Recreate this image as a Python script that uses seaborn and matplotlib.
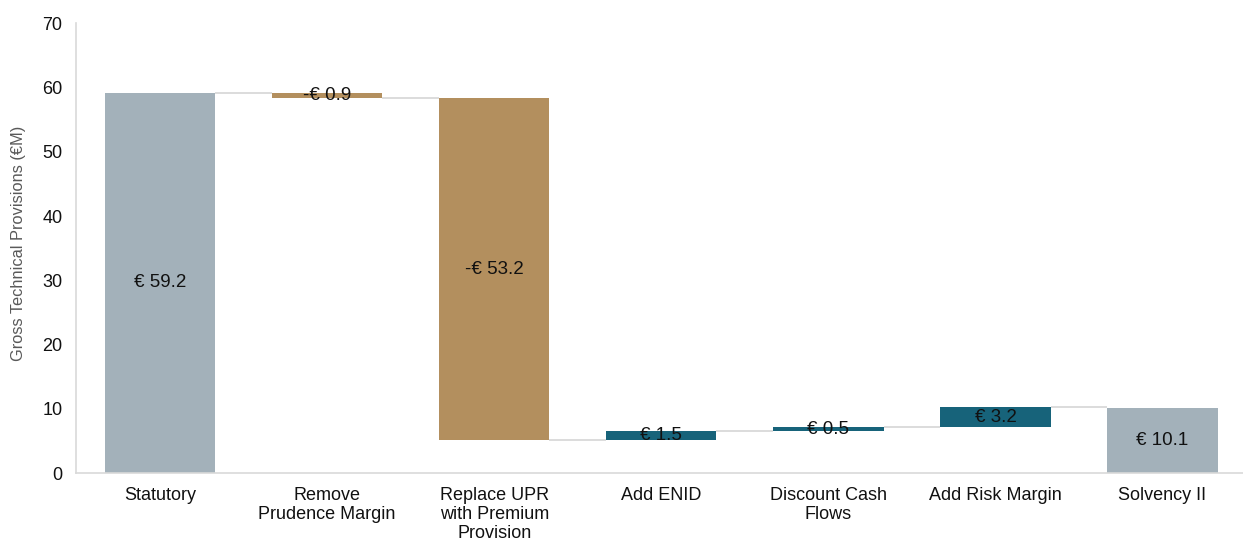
import numpy as np
import pandas as pd
import matplotlib
matplotlib.use("Agg")
import matplotlib.pyplot as plt
import seaborn as sns

# ~~~~~~~~~~~~~~~~~~  DATA  ~~~~~~~~~~~~~~~~~~
steps = ["Statutory", "Remove\nPrudence Margin", "Replace UPR\nwith Premium\nProvision",
         "Add ENID", "Discount Cash\nFlows", "Add Risk Margin", "Solvency II"]
changes = [59.2, -0.9, -53.2, 1.5, 0.5, 3.2, 10.1]
is_total = [True, False, False, False, False, False, True]

grey = "#A3B1BA"
tan = "#B38F5E"
teal = "#17637A"

# ~~~~~~~~~~~~~~~~~~  WATERFALL GEOMETRY  ~~~~~~~~~~~~~~~~~~
levels = []
bottoms = []
heights = []
colours = []
running = 0
for val, tot in zip(changes, is_total):
    if tot:
        bottoms.append(0)
        heights.append(val)
        colours.append(grey)
        running = val
    else:
        start = running
        running = running + val
        bottoms.append(min(start, running))
        heights.append(abs(val))
        colours.append(tan if val < 0 else teal)
    levels.append(running)

df = pd.DataFrame({"step": steps, "height": heights, "bottom": bottoms})

sns.set_style("white")
plt.rcParams['font.family'] = ['Liberation Sans', 'DejaVu Sans']

fig = plt.figure(figsize=(12.43, 5.4), dpi=100)
ax = fig.add_axes([0.0615, 0.124, 0.941, 0.833])

width = 0.66
sns.barplot(data=df, x="step", y="height", bottom=df["bottom"].values,
            color=grey, errorbar=None, width=width, saturation=1, ax=ax)

for patch, c in zip(ax.patches, colours):
    patch.set_facecolor(c)
    patch.set_edgecolor("none")

# connectors
for i in range(len(steps) - 1):
    ax.hlines(levels[i], i + width / 2, i + 1 - width / 2,
              color="#D9D9D9", lw=1.3, zorder=0)

# value labels
for i, (val, tot) in enumerate(zip(changes, is_total)):
    txt = ("-€ %.1f" % abs(val)) if val < 0 else ("€ %.1f" % val)
    ax.text(i, bottoms[i] + heights[i] / 2, txt, ha="center", va="center",
            fontsize=13.5, color="#111111")

ax.set_ylim(0, 70)
ax.set_xlim(-0.5, len(steps) - 0.5)
ax.set_yticks(range(0, 71, 10))
ax.set_ylabel("Gross Technical Provisions (€M)", fontsize=11.8, color="#595959")
ax.yaxis.set_label_coords(-0.043, 0.51)
ax.set_xlabel("")

ax.tick_params(axis="x", which="major", length=0, pad=10, labelsize=13, colors="#111111")
ax.tick_params(axis="y", length=0, labelsize=13, colors="#111111", pad=10)
ax.set_xticks(np.arange(-0.5, len(steps) - 0.5), minor=True)
ax.tick_params(axis="x", which="minor", length=5, color="#D9D9D9", width=1)
for lab in ax.get_xticklabels():
    lab.set_linespacing(1.15)

sns.despine(ax=ax)
for s in ["left", "bottom"]:
    ax.spines[s].set_color("#D9D9D9")
    ax.spines[s].set_linewidth(1.2)

plt.savefig("out.png", dpi=100)
